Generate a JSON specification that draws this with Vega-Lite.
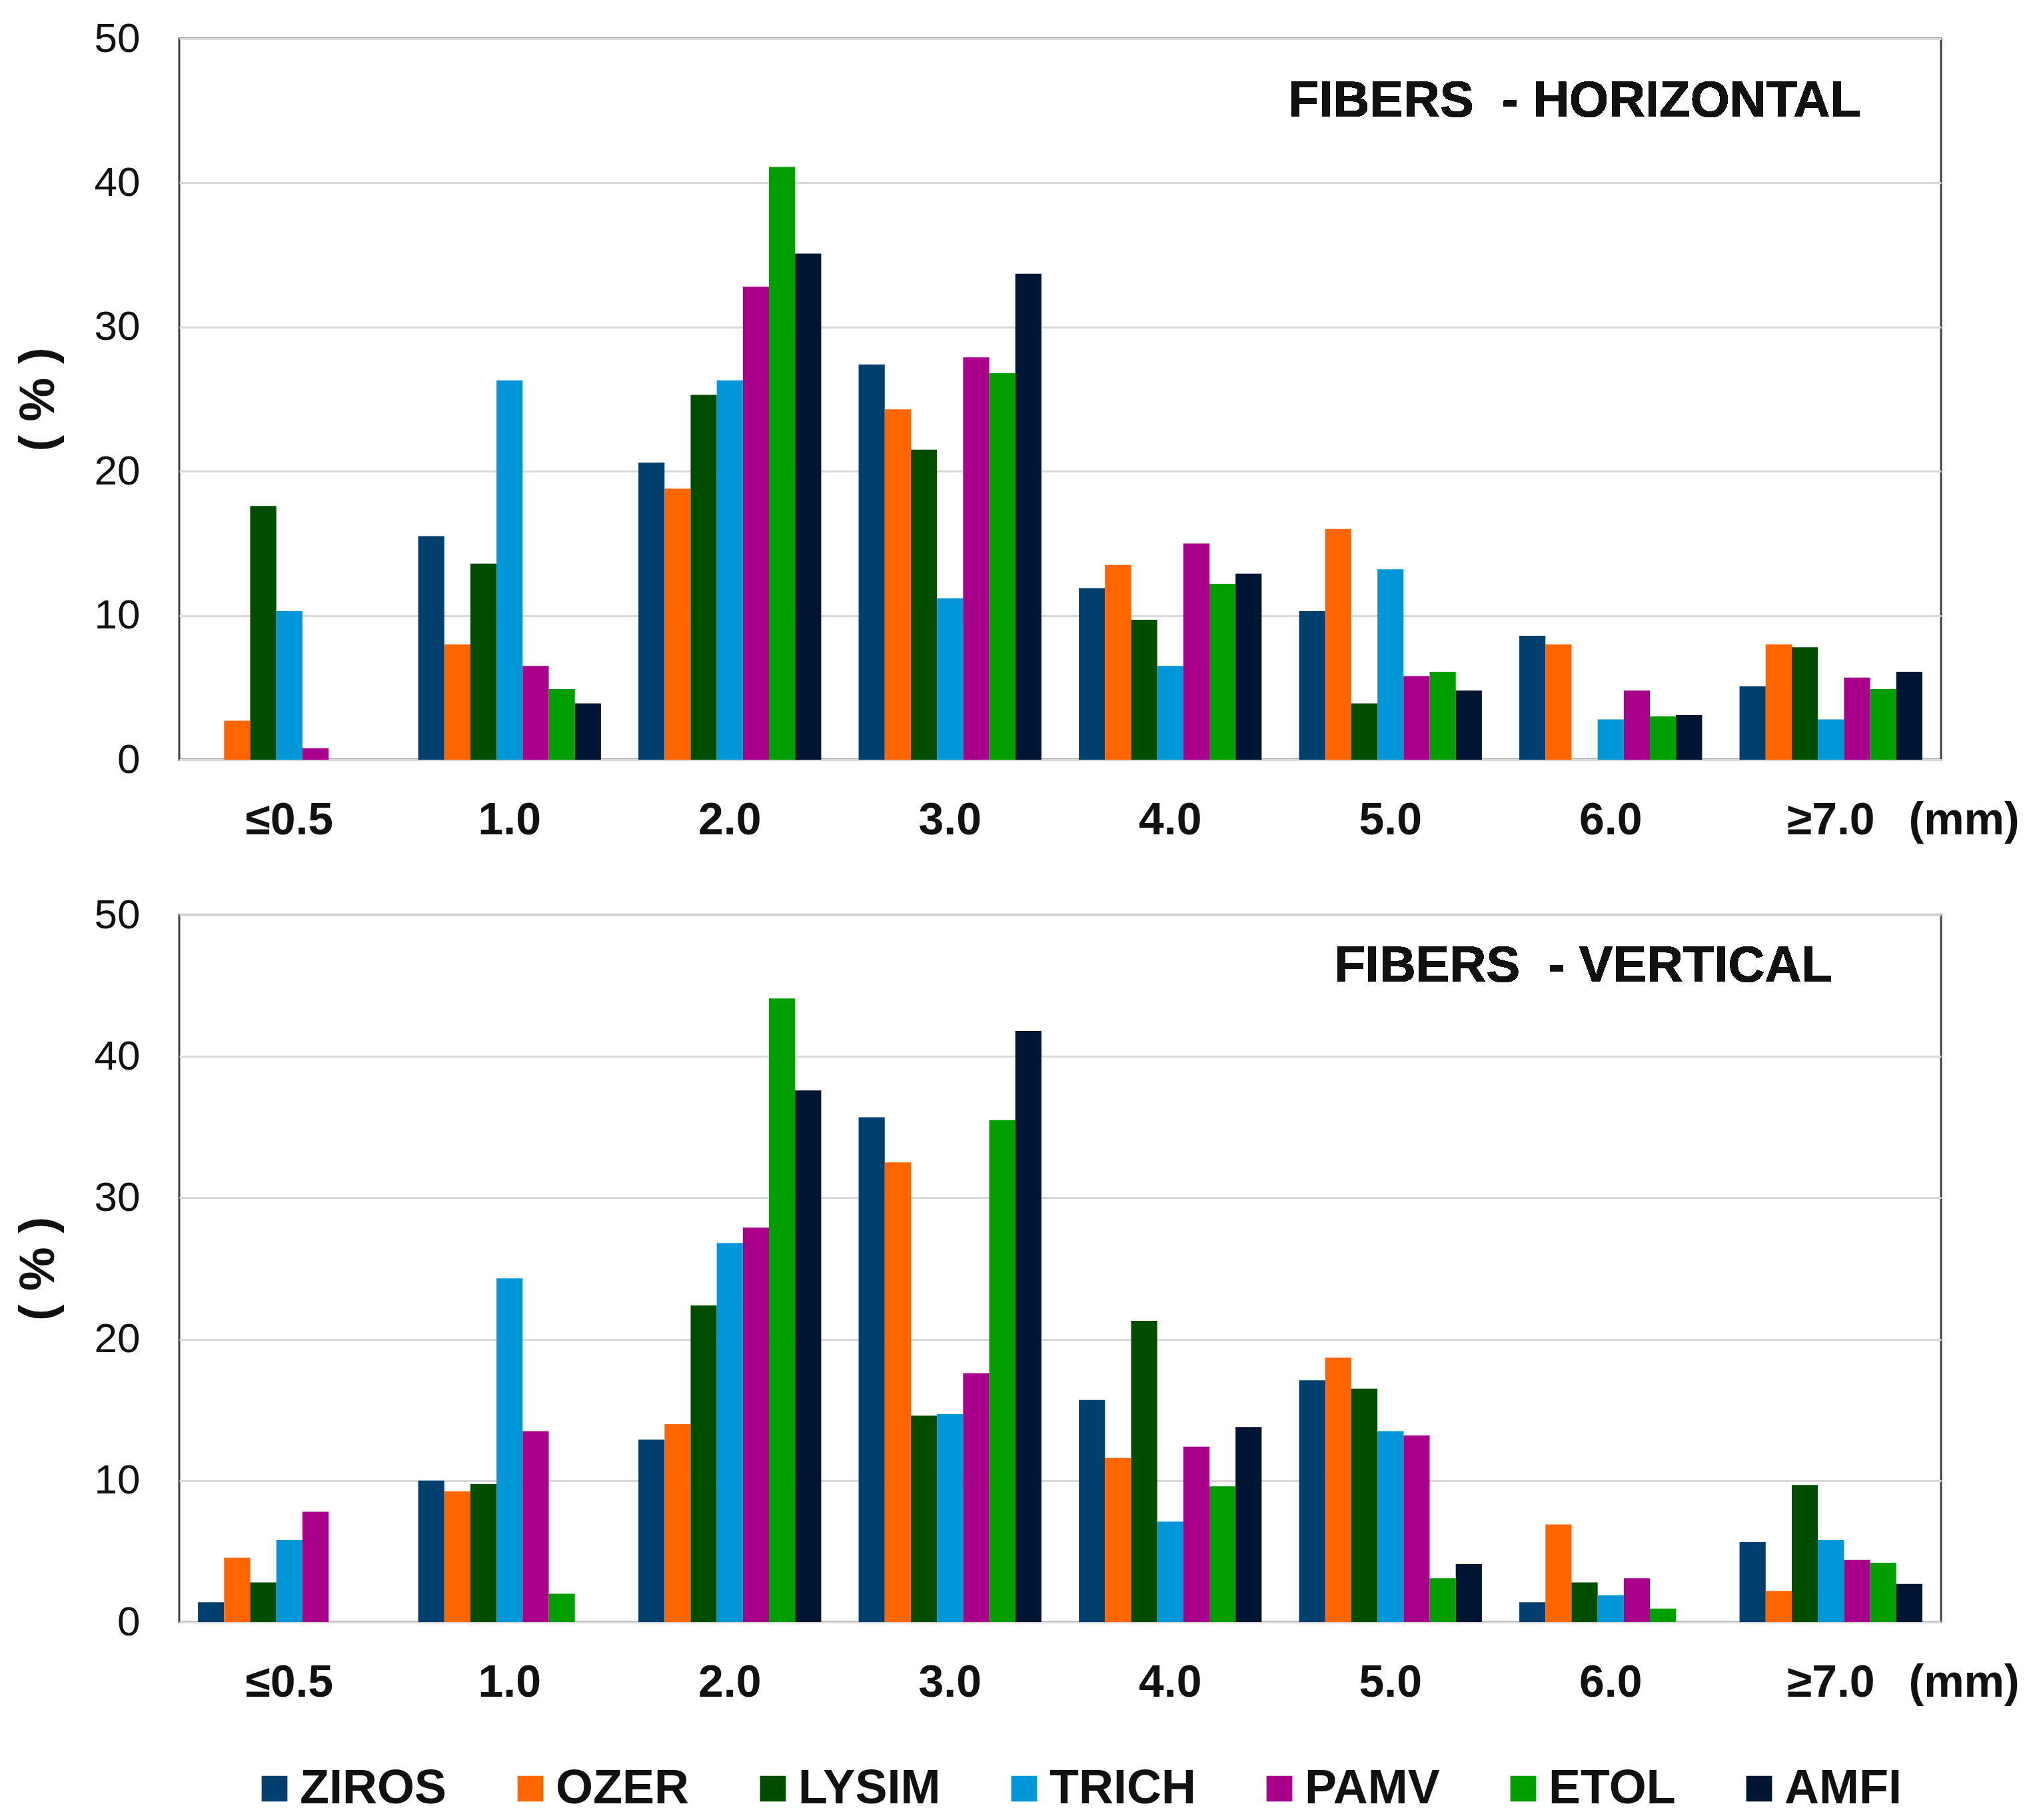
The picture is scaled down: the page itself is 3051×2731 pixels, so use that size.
{
  "$schema": "https://vega.github.io/schema/vega-lite/v6.json",
  "padding": {"left": 19, "top": 25, "right": 10, "bottom": 10},
  "background": "white",
  "spacing": 73,
  "config": {
    "font": "Liberation Sans",
    "view": {"stroke": "#404040", "strokeWidth": 3},
    "axis": {"labelFont": "Liberation Sans", "titleFont": "Liberation Sans", "labelColor": "#111", "titleColor": "#111"}
  },
  "data": {
    "values": [
      {"p": "H", "size": "≤0.5", "site": "ZIROS", "pct": 0},
      {"p": "H", "size": "≤0.5", "site": "OZER", "pct": 2.7},
      {"p": "H", "size": "≤0.5", "site": "LYSIM", "pct": 17.6},
      {"p": "H", "size": "≤0.5", "site": "TRICH", "pct": 10.3},
      {"p": "H", "size": "≤0.5", "site": "PAMV", "pct": 0.8},
      {"p": "H", "size": "≤0.5", "site": "ETOL", "pct": 0},
      {"p": "H", "size": "≤0.5", "site": "AMFI", "pct": 0},
      {"p": "H", "size": "1.0", "site": "ZIROS", "pct": 15.5},
      {"p": "H", "size": "1.0", "site": "OZER", "pct": 8.0},
      {"p": "H", "size": "1.0", "site": "LYSIM", "pct": 13.6},
      {"p": "H", "size": "1.0", "site": "TRICH", "pct": 26.3},
      {"p": "H", "size": "1.0", "site": "PAMV", "pct": 6.5},
      {"p": "H", "size": "1.0", "site": "ETOL", "pct": 4.9},
      {"p": "H", "size": "1.0", "site": "AMFI", "pct": 3.9},
      {"p": "H", "size": "2.0", "site": "ZIROS", "pct": 20.6},
      {"p": "H", "size": "2.0", "site": "OZER", "pct": 18.8},
      {"p": "H", "size": "2.0", "site": "LYSIM", "pct": 25.3},
      {"p": "H", "size": "2.0", "site": "TRICH", "pct": 26.3},
      {"p": "H", "size": "2.0", "site": "PAMV", "pct": 32.8},
      {"p": "H", "size": "2.0", "site": "ETOL", "pct": 41.1},
      {"p": "H", "size": "2.0", "site": "AMFI", "pct": 35.1},
      {"p": "H", "size": "3.0", "site": "ZIROS", "pct": 27.4},
      {"p": "H", "size": "3.0", "site": "OZER", "pct": 24.3},
      {"p": "H", "size": "3.0", "site": "LYSIM", "pct": 21.5},
      {"p": "H", "size": "3.0", "site": "TRICH", "pct": 11.2},
      {"p": "H", "size": "3.0", "site": "PAMV", "pct": 27.9},
      {"p": "H", "size": "3.0", "site": "ETOL", "pct": 26.8},
      {"p": "H", "size": "3.0", "site": "AMFI", "pct": 33.7},
      {"p": "H", "size": "4.0", "site": "ZIROS", "pct": 11.9},
      {"p": "H", "size": "4.0", "site": "OZER", "pct": 13.5},
      {"p": "H", "size": "4.0", "site": "LYSIM", "pct": 9.7},
      {"p": "H", "size": "4.0", "site": "TRICH", "pct": 6.5},
      {"p": "H", "size": "4.0", "site": "PAMV", "pct": 15.0},
      {"p": "H", "size": "4.0", "site": "ETOL", "pct": 12.2},
      {"p": "H", "size": "4.0", "site": "AMFI", "pct": 12.9},
      {"p": "H", "size": "5.0", "site": "ZIROS", "pct": 10.3},
      {"p": "H", "size": "5.0", "site": "OZER", "pct": 16.0},
      {"p": "H", "size": "5.0", "site": "LYSIM", "pct": 3.9},
      {"p": "H", "size": "5.0", "site": "TRICH", "pct": 13.2},
      {"p": "H", "size": "5.0", "site": "PAMV", "pct": 5.8},
      {"p": "H", "size": "5.0", "site": "ETOL", "pct": 6.1},
      {"p": "H", "size": "5.0", "site": "AMFI", "pct": 4.8},
      {"p": "H", "size": "6.0", "site": "ZIROS", "pct": 8.6},
      {"p": "H", "size": "6.0", "site": "OZER", "pct": 8.0},
      {"p": "H", "size": "6.0", "site": "LYSIM", "pct": 0},
      {"p": "H", "size": "6.0", "site": "TRICH", "pct": 2.8},
      {"p": "H", "size": "6.0", "site": "PAMV", "pct": 4.8},
      {"p": "H", "size": "6.0", "site": "ETOL", "pct": 3.0},
      {"p": "H", "size": "6.0", "site": "AMFI", "pct": 3.1},
      {"p": "H", "size": "≥7.0", "site": "ZIROS", "pct": 5.1},
      {"p": "H", "size": "≥7.0", "site": "OZER", "pct": 8.0},
      {"p": "H", "size": "≥7.0", "site": "LYSIM", "pct": 7.8},
      {"p": "H", "size": "≥7.0", "site": "TRICH", "pct": 2.8},
      {"p": "H", "size": "≥7.0", "site": "PAMV", "pct": 5.7},
      {"p": "H", "size": "≥7.0", "site": "ETOL", "pct": 4.9},
      {"p": "H", "size": "≥7.0", "site": "AMFI", "pct": 6.1},
      {"p": "V", "size": "≤0.5", "site": "ZIROS", "pct": 1.4},
      {"p": "V", "size": "≤0.5", "site": "OZER", "pct": 4.55},
      {"p": "V", "size": "≤0.5", "site": "LYSIM", "pct": 2.8},
      {"p": "V", "size": "≤0.5", "site": "TRICH", "pct": 5.8},
      {"p": "V", "size": "≤0.5", "site": "PAMV", "pct": 7.8},
      {"p": "V", "size": "≤0.5", "site": "ETOL", "pct": 0},
      {"p": "V", "size": "≤0.5", "site": "AMFI", "pct": 0},
      {"p": "V", "size": "1.0", "site": "ZIROS", "pct": 10.0},
      {"p": "V", "size": "1.0", "site": "OZER", "pct": 9.25},
      {"p": "V", "size": "1.0", "site": "LYSIM", "pct": 9.75},
      {"p": "V", "size": "1.0", "site": "TRICH", "pct": 24.3},
      {"p": "V", "size": "1.0", "site": "PAMV", "pct": 13.5},
      {"p": "V", "size": "1.0", "site": "ETOL", "pct": 2.0},
      {"p": "V", "size": "1.0", "site": "AMFI", "pct": 0},
      {"p": "V", "size": "2.0", "site": "ZIROS", "pct": 12.9},
      {"p": "V", "size": "2.0", "site": "OZER", "pct": 14.0},
      {"p": "V", "size": "2.0", "site": "LYSIM", "pct": 22.4},
      {"p": "V", "size": "2.0", "site": "TRICH", "pct": 26.8},
      {"p": "V", "size": "2.0", "site": "PAMV", "pct": 27.9},
      {"p": "V", "size": "2.0", "site": "ETOL", "pct": 44.1},
      {"p": "V", "size": "2.0", "site": "AMFI", "pct": 37.6},
      {"p": "V", "size": "3.0", "site": "ZIROS", "pct": 35.7},
      {"p": "V", "size": "3.0", "site": "OZER", "pct": 32.5},
      {"p": "V", "size": "3.0", "site": "LYSIM", "pct": 14.6},
      {"p": "V", "size": "3.0", "site": "TRICH", "pct": 14.7},
      {"p": "V", "size": "3.0", "site": "PAMV", "pct": 17.6},
      {"p": "V", "size": "3.0", "site": "ETOL", "pct": 35.5},
      {"p": "V", "size": "3.0", "site": "AMFI", "pct": 41.8},
      {"p": "V", "size": "4.0", "site": "ZIROS", "pct": 15.7},
      {"p": "V", "size": "4.0", "site": "OZER", "pct": 11.6},
      {"p": "V", "size": "4.0", "site": "LYSIM", "pct": 21.3},
      {"p": "V", "size": "4.0", "site": "TRICH", "pct": 7.1},
      {"p": "V", "size": "4.0", "site": "PAMV", "pct": 12.4},
      {"p": "V", "size": "4.0", "site": "ETOL", "pct": 9.6},
      {"p": "V", "size": "4.0", "site": "AMFI", "pct": 13.8},
      {"p": "V", "size": "5.0", "site": "ZIROS", "pct": 17.1},
      {"p": "V", "size": "5.0", "site": "OZER", "pct": 18.7},
      {"p": "V", "size": "5.0", "site": "LYSIM", "pct": 16.5},
      {"p": "V", "size": "5.0", "site": "TRICH", "pct": 13.5},
      {"p": "V", "size": "5.0", "site": "PAMV", "pct": 13.2},
      {"p": "V", "size": "5.0", "site": "ETOL", "pct": 3.1},
      {"p": "V", "size": "5.0", "site": "AMFI", "pct": 4.1},
      {"p": "V", "size": "6.0", "site": "ZIROS", "pct": 1.4},
      {"p": "V", "size": "6.0", "site": "OZER", "pct": 6.9},
      {"p": "V", "size": "6.0", "site": "LYSIM", "pct": 2.8},
      {"p": "V", "size": "6.0", "site": "TRICH", "pct": 1.9},
      {"p": "V", "size": "6.0", "site": "PAMV", "pct": 3.1},
      {"p": "V", "size": "6.0", "site": "ETOL", "pct": 0.95},
      {"p": "V", "size": "6.0", "site": "AMFI", "pct": 0},
      {"p": "V", "size": "≥7.0", "site": "ZIROS", "pct": 5.65},
      {"p": "V", "size": "≥7.0", "site": "OZER", "pct": 2.2},
      {"p": "V", "size": "≥7.0", "site": "LYSIM", "pct": 9.7},
      {"p": "V", "size": "≥7.0", "site": "TRICH", "pct": 5.8},
      {"p": "V", "size": "≥7.0", "site": "PAMV", "pct": 4.4},
      {"p": "V", "size": "≥7.0", "site": "ETOL", "pct": 4.2},
      {"p": "V", "size": "≥7.0", "site": "AMFI", "pct": 2.7}
    ]
  },
  "vconcat": [
    {
      "width": 2644,
      "height": 1082,
      "layer": [
        {
          "transform": [{"filter": "datum.p === 'H'"}],
          "mark": {"type": "bar"},
          "encoding": {
            "x": {
              "field": "size", "type": "nominal",
              "sort": ["≤0.5", "1.0", "2.0", "3.0", "4.0", "5.0", "6.0", "≥7.0"],
              "scale": {"paddingInner": 0.17, "paddingOuter": 0.085},
              "axis": {
                "title": "(mm)", "titleFontSize": 68, "titleFontWeight": "bold",
                "titleAnchor": "start", "titleAlign": "left", "titleBaseline": "alphabetic",
                "titleX": 2595, "titleY": 111,
                "labelAngle": 0, "labelFontSize": 68, "labelFontWeight": "bold",
                "labelPadding": 57, "ticks": false, "tickSize": 0,
                "domainColor": "#d9d9d9", "domainWidth": 3
              }
            },
            "xOffset": {
              "field": "site", "type": "nominal",
              "sort": ["ZIROS", "OZER", "LYSIM", "TRICH", "PAMV", "ETOL", "AMFI"],
              "scale": {"paddingInner": 0, "paddingOuter": 0}
            },
            "y": {
              "field": "pct", "type": "quantitative",
              "scale": {"domain": [0, 50], "nice": false},
              "axis": {
                "title": "(\u00a0%\u00a0)", "titleFontSize": 74, "titleFontWeight": "bold",
                "titleX": -211, "titleBaseline": "middle",
                "values": [0, 10, 20, 30, 40, 50],
                "labelFontSize": 62, "labelPadding": 59, "ticks": false, "tickSize": 0,
                "domain": false, "gridColor": "#d9d9d9", "gridWidth": 3
              }
            },
            "color": {
              "field": "site", "type": "nominal",
              "sort": ["ZIROS", "OZER", "LYSIM", "TRICH", "PAMV", "ETOL", "AMFI"],
              "scale": {
                "domain": ["ZIROS", "OZER", "LYSIM", "TRICH", "PAMV", "ETOL", "AMFI"],
                "range": ["#003f6e", "#ff6600", "#004d00", "#0096d8", "#a8008a", "#009e00", "#001433"]
              },
              "legend": {
                "title": null, "orient": "none", "direction": "horizontal",
                "legendX": 107, "legendY": 2590,
                "symbolType": "square", "symbolSize": 1500, "symbolStrokeWidth": 0,
                "labelFontSize": 72, "labelFontWeight": "bold", "labelColor": "#111",
                "labelOffset": 2, "labelLimit": 0, "columnPadding": 89
              }
            }
          }
        },
        {
          "mark": {"type": "text", "text": "FIBERS\u00a0\u00a0- HORIZONTAL", "align": "right", "baseline": "alphabetic", "dx": 45, "fontSize": 76, "fontWeight": "bold", "color": "#111"},
          "encoding": {
            "x": {"datum": "≥7.0", "type": "nominal"},
            "y": {"datum": 44.6, "type": "quantitative"}
          }
        }
      ]
    },
    {
      "width": 2644,
      "height": 1061,
      "layer": [
        {
          "transform": [{"filter": "datum.p === 'V'"}],
          "mark": {"type": "bar"},
          "encoding": {
            "x": {
              "field": "size", "type": "nominal",
              "sort": ["≤0.5", "1.0", "2.0", "3.0", "4.0", "5.0", "6.0", "≥7.0"],
              "scale": {"paddingInner": 0.17, "paddingOuter": 0.085},
              "axis": {
                "title": "(mm)", "titleFontSize": 68, "titleFontWeight": "bold",
                "titleAnchor": "start", "titleAlign": "left", "titleBaseline": "alphabetic",
                "titleX": 2595, "titleY": 111,
                "labelAngle": 0, "labelFontSize": 68, "labelFontWeight": "bold",
                "labelPadding": 57, "ticks": false, "tickSize": 0,
                "domainColor": "#d9d9d9", "domainWidth": 3
              }
            },
            "xOffset": {
              "field": "site", "type": "nominal",
              "sort": ["ZIROS", "OZER", "LYSIM", "TRICH", "PAMV", "ETOL", "AMFI"],
              "scale": {"paddingInner": 0, "paddingOuter": 0}
            },
            "y": {
              "field": "pct", "type": "quantitative",
              "scale": {"domain": [0, 50], "nice": false},
              "axis": {
                "title": "(\u00a0%\u00a0)", "titleFontSize": 74, "titleFontWeight": "bold",
                "titleX": -211, "titleBaseline": "middle",
                "values": [0, 10, 20, 30, 40, 50],
                "labelFontSize": 62, "labelPadding": 59, "ticks": false, "tickSize": 0,
                "domain": false, "gridColor": "#d9d9d9", "gridWidth": 3
              }
            },
            "color": {
              "field": "site", "type": "nominal",
              "sort": ["ZIROS", "OZER", "LYSIM", "TRICH", "PAMV", "ETOL", "AMFI"],
              "scale": {
                "domain": ["ZIROS", "OZER", "LYSIM", "TRICH", "PAMV", "ETOL", "AMFI"],
                "range": ["#003f6e", "#ff6600", "#004d00", "#0096d8", "#a8008a", "#009e00", "#001433"]
              },
              "legend": {
                "title": null, "orient": "none", "direction": "horizontal",
                "legendX": 107, "legendY": 2590,
                "symbolType": "square", "symbolSize": 1500, "symbolStrokeWidth": 0,
                "labelFontSize": 72, "labelFontWeight": "bold", "labelColor": "#111",
                "labelOffset": 2, "labelLimit": 0, "columnPadding": 89
              }
            }
          }
        },
        {
          "mark": {"type": "text", "text": "FIBERS\u00a0\u00a0- VERTICAL", "align": "right", "baseline": "alphabetic", "dx": 2, "fontSize": 76, "fontWeight": "bold", "color": "#111"},
          "encoding": {
            "x": {"datum": "≥7.0", "type": "nominal"},
            "y": {"datum": 45.3, "type": "quantitative"}
          }
        }
      ]
    }
  ]
}
